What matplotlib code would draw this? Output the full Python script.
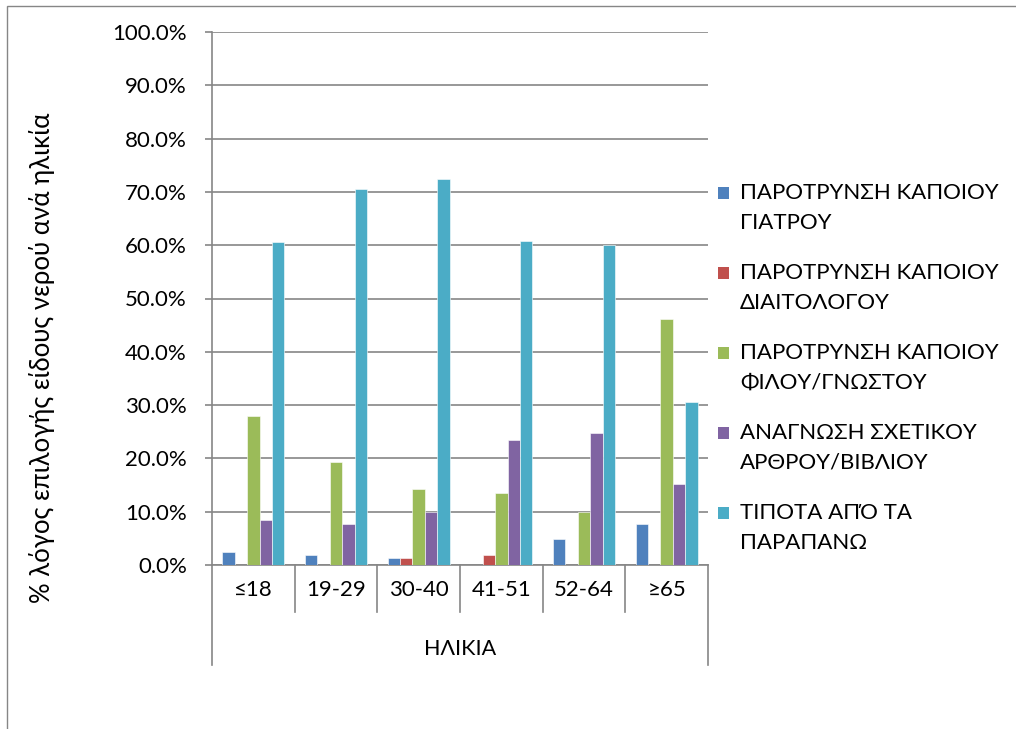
import matplotlib
matplotlib.use("Agg")
import matplotlib.pyplot as plt
from matplotlib.patches import Rectangle
from matplotlib.lines import Line2D
import numpy as np

plt.rcParams['font.family'] = ['Lato', 'DejaVu Sans']

categories = ["≤18", "19-29", "30-40", "41-51", "52-64", "≥65"]
series_names = [
    "ΠΑΡΟΤΡΥΝΣΗ ΚΑΠΟΙΟΥ\nΓΙΑΤΡΟΥ",
    "ΠΑΡΟΤΡΥΝΣΗ ΚΑΠΟΙΟΥ\nΔΙΑΙΤΟΛΟΓΟΥ",
    "ΠΑΡΟΤΡΥΝΣΗ ΚΑΠΟΙΟΥ\nΦΙΛΟΥ/ΓΝΩΣΤΟΥ",
    "ΑΝΑΓΝΩΣΗ ΣΧΕΤΙΚΟΥ\nΑΡΘΡΟΥ/ΒΙΒΛΙΟΥ",
    "ΤΙΠΟΤΑ ΑΠΌ ΤΑ\nΠΑΡΑΠΑΝΩ",
]
giatrou = [2.5, 1.9, 1.3, 0.0, 4.9, 7.6]
diaitologou = [0.0, 0.0, 1.3, 1.9, 0.0, 0.0]
filou = [28.0, 19.3, 14.3, 13.6, 10.0, 46.1]
arthrou = [8.5, 7.7, 10.0, 23.4, 24.8, 15.2]
tipota = [60.6, 70.6, 72.4, 60.7, 60.0, 30.6]
colors = ["#4F81BD", "#C0504D", "#9BBB59", "#8064A2", "#4BACC6"]
yticks = [0, 10, 20, 30, 40, 50, 60, 70, 80, 90, 100]
ylabel = "% λόγος επιλογής είδους νερού ανά ηλικία"
xlabel = "ΗΛΙΚΙΑ"

W, H = 1016, 729
FS = 15.5
fig = plt.figure(figsize=(W / 100, H / 100), dpi=100)

# outer chart border
fig.patches.append(Rectangle((7 / W, -0.1), 1.2, (H - 6) / H + 0.1, transform=fig.transFigure,
                             fill=False, edgecolor="#868686", linewidth=1.0))

ax = fig.add_axes([212 / W, (H - 565) / H, 496 / W, 533 / H])
data = [giatrou, diaitologou, filou, arthrou, tipota]
n = len(categories)
x = np.arange(n)
bw = 0.15
for i, (vals, c) in enumerate(zip(data, colors)):
    ax.bar(x + (i - 2) * bw, vals, width=bw, color=c, edgecolor="white", linewidth=0.4, zorder=3)

ax.set_xlim(-0.5, n - 0.5)
ax.set_ylim(0, 100)
ax.set_yticks(yticks)
ax.set_yticklabels([f"{v:.1f}%" for v in yticks], fontsize=FS + 0.5)
ax.yaxis.grid(True, color="#868686", linewidth=1.2, zorder=0)
ax.tick_params(axis="y", length=5, color="#868686", width=1.2, pad=13)
ax.tick_params(axis="x", length=0, labelbottom=False)
for s in ["top", "right"]:
    ax.spines[s].set_visible(False)
ax.spines["left"].set_color("#868686")
ax.spines["left"].set_linewidth(1.2)
ax.spines["bottom"].set_color("#868686")
ax.spines["bottom"].set_linewidth(1.2)

# category labels and separators
tr = ax.get_xaxis_transform()
for i, c in enumerate(categories):
    ax.text(i, -0.047, c, transform=tr, ha="center", va="center", fontsize=FS + 0.5)
for b in np.arange(0.5, n - 1, 1.0):
    ax.add_line(Line2D([b, b], [0, -0.088], transform=tr, color="#868686", linewidth=1.2, clip_on=False))
for b in [-0.5, n - 0.5]:
    ax.add_line(Line2D([b, b], [0, -0.188], transform=tr, color="#868686", linewidth=1.2, clip_on=False))
ax.text((n - 1) / 2, -0.158, xlabel, transform=tr, ha="center", va="center", fontsize=FS)

fig.text(42 / W, 1 - 358 / H, ylabel, rotation=90, ha="center", va="center", fontsize=18.5)

# legend
ly0 = 193
for i, (name, c) in enumerate(zip(series_names, colors)):
    yc = ly0 + i * 80
    fig.patches.append(Rectangle((718 / W, 1 - (yc + 6) / H), 11 / W, 12 / H,
                                 transform=fig.transFigure, facecolor=c, edgecolor="none"))
    l1, l2 = name.split("\n")
    fig.text(740 / W, 1 - yc / H, l1, ha="left", va="center", fontsize=FS + 0.5)
    fig.text(740 / W, 1 - (yc + 30) / H, l2, ha="left", va="center", fontsize=FS + 0.5)

fig.savefig("out.png", dpi=100)
